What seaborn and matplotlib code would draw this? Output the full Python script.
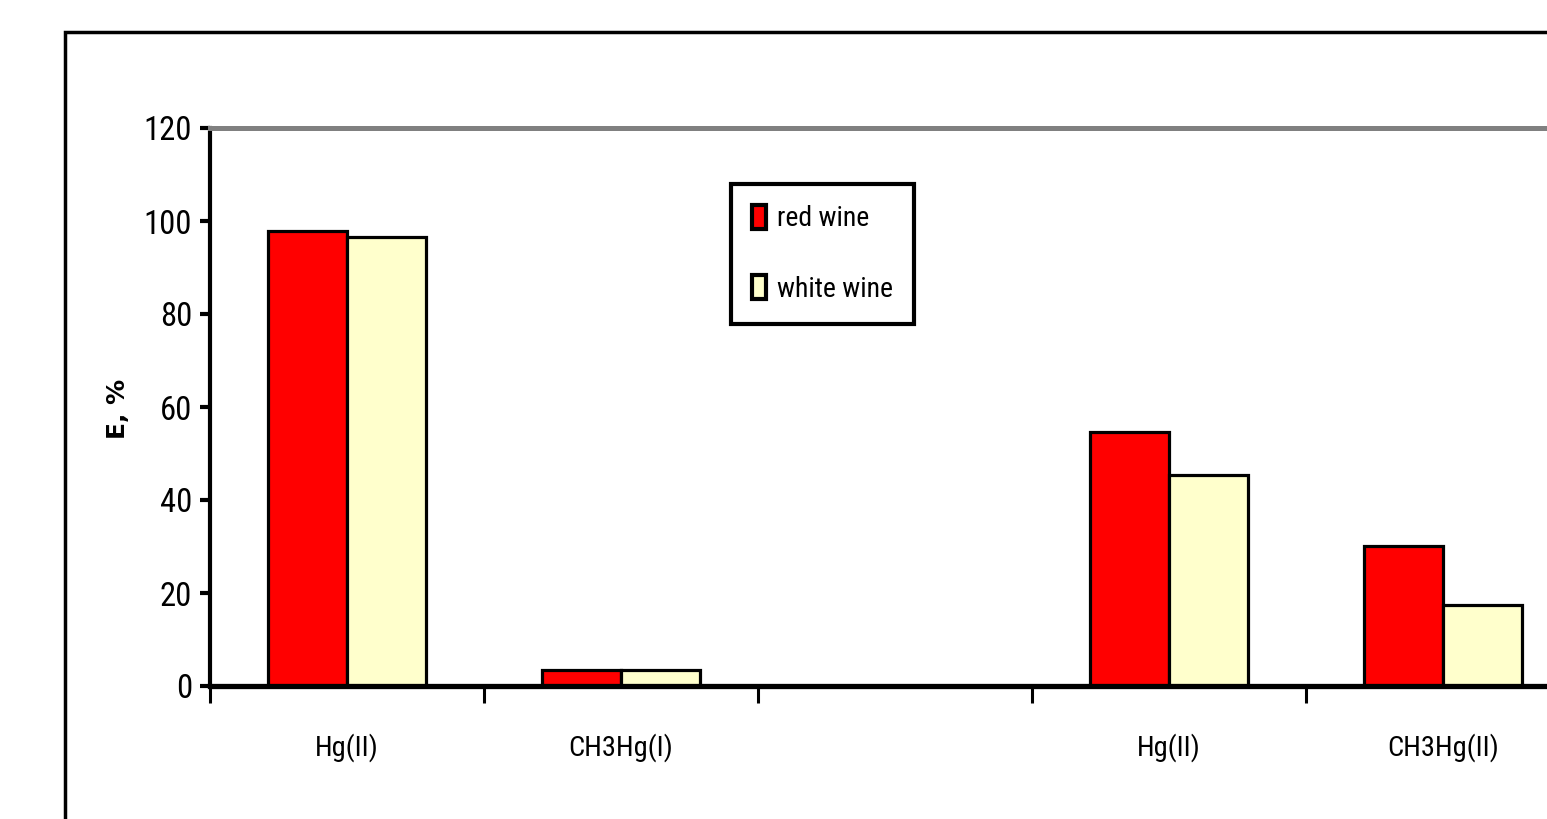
import matplotlib
matplotlib.use("Agg")
import matplotlib.pyplot as plt
from matplotlib import font_manager
from matplotlib.font_manager import FontProperties
from matplotlib.patches import Rectangle
import numpy as np
import pandas as pd
import seaborn as sns

# Extraction efficiency data
slots = ["s1", "s2", "s3", "s4", "s5"]
slot_labels = ["Hg(II)", "CH3Hg(I)", "", "Hg(II)", "CH3Hg(II)"]
red_wine = [97.8, 3.4, np.nan, 54.6, 30.1]
white_wine = [96.6, 3.4, np.nan, 45.4, 17.4]
series_names = ["red wine", "white wine"]
series_colors = ["#FF0000", "#FFFFCC"]
y_ticks = [0, 20, 40, 60, 80, 100, 120]

df = pd.DataFrame({
    "slot": slots * 2,
    "E": red_wine + white_wine,
    "wine": [series_names[0]] * len(slots) + [series_names[1]] * len(slots),
})


def narrow_font():
    """Return (FontProperties factory, scale) for a condensed sans face."""
    fonts = font_manager.fontManager.ttflist
    names = {f.name for f in fonts}
    for cand in ["Liberation Sans Narrow", "Arial Narrow", "Roboto Condensed"]:
        if cand in names:
            return (lambda size: FontProperties(family=cand, size=size)), 1.0
    for f in fonts:
        if "Condensed" in f.fname and "DejaVuSans" in f.fname and "Bold" not in f.fname \
                and "Oblique" not in f.fname and "Mono" not in f.fname and "Serif" not in f.fname:
            path = f.fname
            return (lambda size: FontProperties(fname=path, size=size)), 0.92
    return (lambda size: FontProperties(family="Liberation Sans", size=size)), 0.82


make_font, scale = narrow_font()

sns.set_theme(style="white")
plt.rcParams["font.family"] = ["Liberation Sans", "DejaVu Sans"]

fig = plt.figure(figsize=(15.47, 8.19), dpi=100)
ax = fig.add_axes([210 / 1547, 133 / 819, 1370 / 1547, 558 / 819])

sns.barplot(data=df, x="slot", y="E", hue="wine", order=slots,
            hue_order=series_names, palette=series_colors, width=0.575,
            edgecolor="black", linewidth=2.3, saturation=1, ax=ax)

ax.set_xlim(-0.5, 4.5)
ax.set_ylim(0, 120)
ax.set_yticks(y_ticks)
ax.set_yticklabels([str(v) for v in y_ticks])
for lab in ax.get_yticklabels():
    lab.set_fontproperties(make_font(23.5 * scale))
    lab.set_color("black")

# category boundaries as major ticks, labels centred as minor ticks
ax.set_xticks(np.arange(-0.5, 4.6, 1.0))
ax.set_xticklabels([])
ax.set_xticks(np.arange(len(slots)), minor=True)
ax.set_xticklabels(slot_labels, minor=True)
for lab in ax.get_xticklabels(minor=True):
    lab.set_fontproperties(make_font(20.5 * scale))
    lab.set_color("black")
ax.tick_params(axis="x", which="major", direction="out", length=12, width=2.2,
               color="black", bottom=True)
ax.tick_params(axis="x", which="minor", length=0, pad=34)
ax.tick_params(axis="y", direction="out", length=7, width=3, color="black",
               left=True, pad=6)
ax.set_xlabel("")
ax.set_ylabel("")

fig.text(118 / 1547, 1 - 409 / 819, "E, %", rotation=90, ha="center", va="center",
         fontsize=18, fontweight="bold", family="DejaVu Sans", color="black")

for side in ["left", "bottom"]:
    ax.spines[side].set_color("black")
ax.spines["left"].set_linewidth(3)
ax.spines["bottom"].set_linewidth(3.8)
ax.spines["top"].set_color("#808080")
ax.spines["top"].set_linewidth(3.6)
ax.spines["right"].set_visible(False)

leg = ax.legend(loc="upper left", bbox_to_anchor=((731 - 210) / 1370, (686 - 184) / 558),
                prop=make_font(20 * scale), frameon=True, fancybox=False,
                framealpha=1, handlelength=0.5, handleheight=0.95,
                handletextpad=0.4, labelspacing=1.55, borderpad=0.75,
                borderaxespad=0)
leg.get_frame().set_edgecolor("black")
leg.get_frame().set_linewidth(3)
for t in leg.get_texts():
    t.set_color("black")
for h in leg.legend_handles:
    h.set_linewidth(3)

# outer chart frame
fig.patches.append(Rectangle((65 / 1547, -0.1), 1.2, (819 - 32) / 819 + 0.1,
                             transform=fig.transFigure, fill=False,
                             edgecolor="black", linewidth=2.5))

fig.savefig("out.png", dpi=100)
